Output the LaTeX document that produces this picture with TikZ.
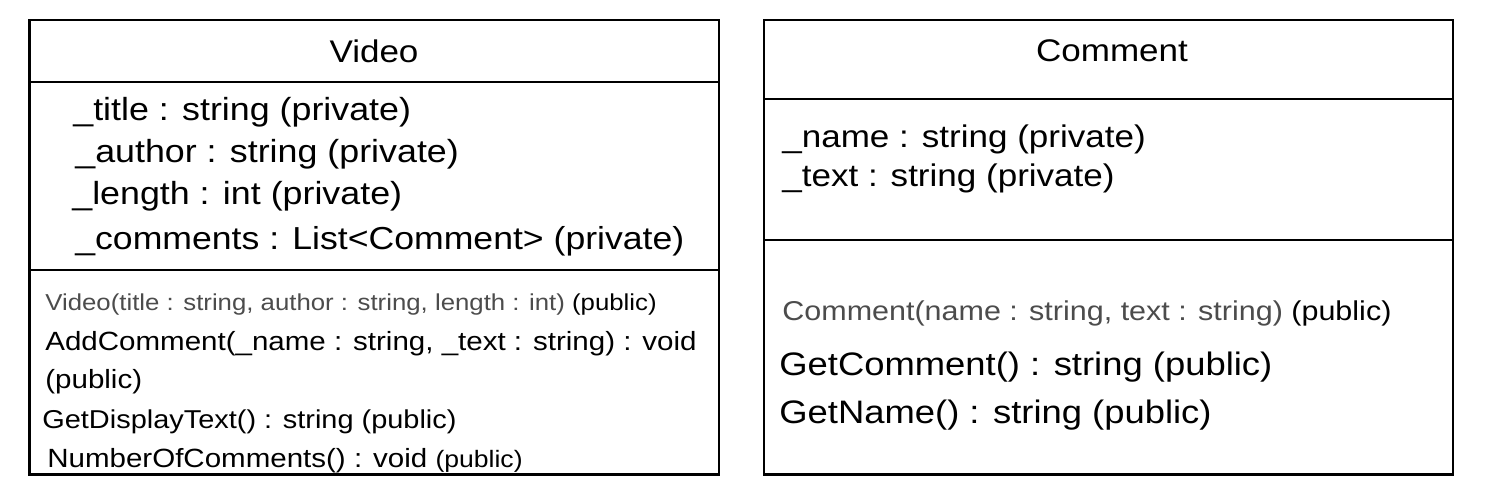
\documentclass[tikz,border=0pt]{standalone}
\usepackage{fontspec}
\setmainfont[FakeStretch=1.12]{Liberation Sans}

\begin{document}
\begin{tikzpicture}[
    x=0.02cm, y=-0.02cm,
    boxline/.style={draw=black, line width=1.3pt},
    classname/.style={anchor=base, inner sep=0pt, font=\fontsize{17.8pt}{17.8pt}\selectfont},
    member/.style={anchor=base west, inner sep=0pt, font=\fontsize{#1}{#1}\selectfont}
]

  % Define variables for the two class boxes (pixels of the page)
  \def\vidL{29.5}  \def\vidR{719}      % Video box, left and right
  \def\comL{764}   \def\comR{1453}     % Comment box, left and right
  \def\boxTop{20}  \def\boxBot{474.5}

  \useasboundingbox (0,0) rectangle (1500,500);

  % Video class: frame and compartments
  \draw[boxline] (\vidL,\boxTop) rectangle (\vidR,\boxBot);
  \draw[boxline] (\vidL,82) -- (\vidR,82);
  \draw[boxline] (\vidL,270) -- (\vidR,270);

  \node[classname] (videoName) at (374,63) {Video};

  \node[member=18.2pt] (vTitle)    at (73,120) {\_title : string (private)};
  \node[member=18.2pt] (vAuthor)   at (75,162) {\_author : string (private)};
  \node[member=18.2pt] (vLength)   at (72,204) {\_length : int (private)};
  \node[member=18.1pt] (vComments) at (75,249) {\_comments : List<Comment> (private)};

  \node[member=13.1pt] (vCtor) at (45,310)
    {{\color{black!70}Video(title : string, author : string, length : int)} (public)};
  \node[member=15pt] (vAdd)       at (45,350) {AddComment(\_name : string, \_text : string) : void};
  \node[member=15pt] (vAddVis)    at (45,388) {(public)};
  \node[member=14.7pt] (vDisplay) at (42,428) {GetDisplayText() : string (public)};
  \node[member=15pt] (vNumber)    at (47,467)
    {NumberOfComments() : void \fontsize{13.5pt}{13.5pt}\selectfont(public)};

  % Comment class: frame and compartments
  \draw[boxline] (\comL,\boxTop) rectangle (\comR,\boxBot);
  \draw[boxline] (\comL,99) -- (\comR,99);
  \draw[boxline] (\comL,240) -- (\comR,240);

  \node[classname] (commentName) at (1112,62) {Comment};

  \node[member=17.8pt] (cName) at (782,147) {\_name : string (private)};
  \node[member=17.8pt] (cText) at (782,186) {\_text : string (private)};

  \node[member=15.5pt] (cCtor) at (782,320)
    {{\color{black!70}Comment(name : string, text : string)} (public)};
  \node[member=18.5pt] (cGetComment) at (779,375) {GetComment() : string (public)};
  \node[member=18.5pt] (cGetName)    at (779,423) {GetName() : string (public)};

\end{tikzpicture}
\end{document}
